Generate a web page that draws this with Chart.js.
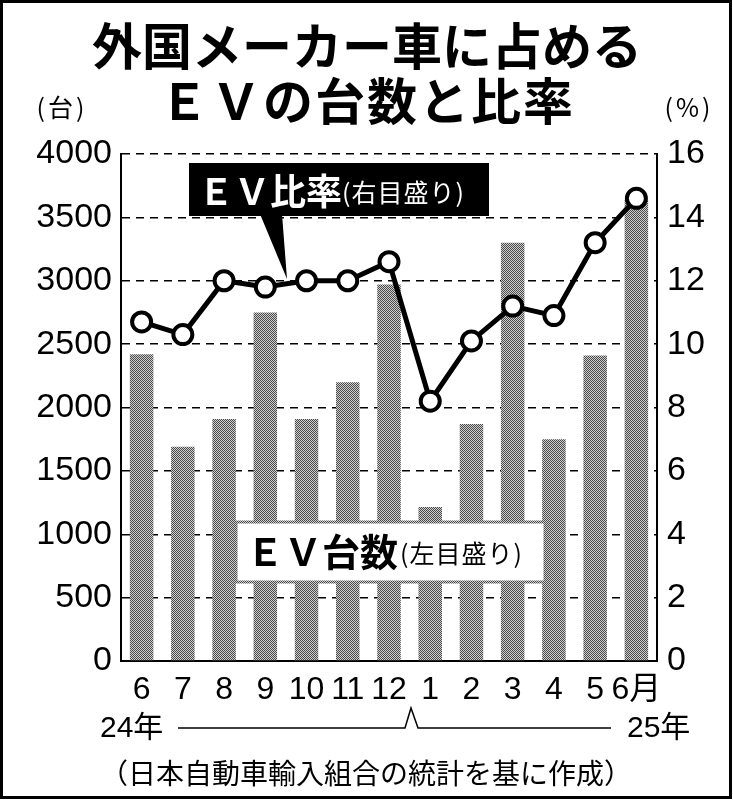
<!DOCTYPE html>
<html lang="ja">
<head>
    <meta charset="UTF-8">
    <title>外国メーカー車に占めるEVの台数と比率</title>
    <script src="https://cdn.jsdelivr.net/npm/chart.js"></script>
    <style>
        body { margin: 0; background: #fff; }
        #wrap { width: 733px; height: 800px; }
    </style>
</head>
<body>
<div id="wrap">
    <canvas id="evChart" width="733" height="800"></canvas>
</div>

<script>
// data
const months = ['6', '7', '8', '9', '10', '11', '12', '1', '2', '3', '4', '5', '6月'];
const evUnits = [2420, 1690, 1910, 2750, 1910, 2200, 2970, 1215, 1870, 3300, 1750, 2410, 3640];
const evRatio = [10.7, 10.3, 12.0, 11.8, 12.0, 12.0, 12.6, 8.2, 10.1, 11.2, 10.9, 13.2, 14.6];
const unitMax = 4000, unitStep = 500;
const ratioMax = 16, ratioStep = 2;

const JP = '"Noto Sans CJK JP", sans-serif';
const NUM = '"Liberation Sans", "Noto Sans CJK JP", sans-serif';

// halftone grey for the bars
function halftone(dark, light) {
    const c = document.createElement('canvas');
    c.width = 2; c.height = 2;
    const g = c.getContext('2d');
    g.fillStyle = light; g.fillRect(0, 0, 2, 2);
    g.fillStyle = dark; g.fillRect(0, 0, 1, 1); g.fillRect(1, 1, 1, 1);
    return g.createPattern(c, 'repeat');
}
const ctx = document.getElementById('evChart').getContext('2d');
const barFill = halftone('#4a4a4a', '#cfcfcf');

function text(c, str, x, y, font, color, align, spacing) {
    c.font = font;
    c.fillStyle = color;
    c.textAlign = align || 'left';
    c.textBaseline = 'middle';
    c.letterSpacing = spacing || '0px';
    c.fillText(str, x, y);
    c.letterSpacing = '0px';
}

const extras = {
    id: 'extras',
    afterDatasetsDraw(chart) {
        const c = chart.ctx;
        c.save();
        // EV比率 callout (black box)
        c.fillStyle = '#000';
        c.fillRect(189, 163, 300, 53);
        c.beginPath();
        c.moveTo(260, 214);
        c.lineTo(287, 279);
        c.lineTo(282, 214);
        c.closePath();
        c.fill();
        text(c, 'ＥＶ比率', 198, 191, 'bold 36px ' + JP, '#fff');
        text(c, '(右目盛り)', 342, 192, '25px ' + JP, '#fff', 'left', '1px');

        // EV台数 label (white box with dotted edge)
        c.fillStyle = '#fff';
        c.fillRect(236, 522, 309, 60);
        c.strokeStyle = barFill;
        c.lineWidth = 3;
        c.strokeRect(236, 522, 309, 60);
        text(c, 'ＥＶ台数', 246, 552, 'bold 38px ' + JP, '#000');
        text(c, '(左目盛り)', 400, 553, '25px ' + JP, '#000', 'left', '1px');
        c.restore();
    },
    afterDraw(chart) {
        const c = chart.ctx;
        c.save();
        text(c, '外国メーカー車に占める', 367, 46, 'bold 50px ' + JP, '#000', 'center');
        text(c, 'ＥＶの台数と比率', 367, 101, 'bold 50px ' + JP, '#000', 'center', '2px');
        text(c, '(台)', 62, 107, '25px ' + JP, '#000', 'center', '3px');
        text(c, '(%)', 689, 107, '25px ' + JP, '#000', 'center', '3px');

        // year bracket under the month labels
        text(c, '24年', 100, 729, '30px ' + NUM, '#000');
        text(c, '25年', 627, 729, '30px ' + NUM, '#000');
        c.strokeStyle = '#000';
        c.lineWidth = 1.5;
        c.beginPath();
        c.moveTo(178, 728);
        c.lineTo(405, 728);
        c.lineTo(411, 708);
        c.lineTo(418, 728);
        c.lineTo(611, 728);
        c.stroke();

        text(c, '（日本自動車輸入組合の統計を基に作成）', 100, 773, '28px ' + JP, '#000');

        // outer frame
        c.lineWidth = 3;
        c.strokeRect(1.5, 1.5, 729, 796);
        c.restore();
    }
};

new Chart(ctx, {
    type: 'bar',
    data: {
        labels: months,
        datasets: [{
            type: 'line',
            label: 'EV比率',
            data: evRatio,
            yAxisID: 'yRatio',
            borderColor: '#000',
            borderWidth: 5,
            pointRadius: 9.5,
            pointBackgroundColor: '#fff',
            pointBorderColor: '#000',
            pointBorderWidth: 4,
            tension: 0,
            order: 0
        }, {
            label: 'EV台数',
            data: evUnits,
            yAxisID: 'yUnits',
            backgroundColor: barFill,
            borderWidth: 0,
            barPercentage: 0.57,
            categoryPercentage: 1,
            order: 1
        }]
    },
    options: {
        responsive: false,
        animation: false,
        devicePixelRatio: 1,
        layout: { padding: { top: 154, left: 0, right: 0, bottom: 0 } },
        plugins: { legend: { display: false }, tooltip: { enabled: false } },
        scales: {
            x: {
                grid: { display: false, drawTicks: false },
                border: { color: '#000', width: 2 },
                ticks: { color: '#000', font: { family: NUM, size: 32 }, padding: 10, maxRotation: 0, autoSkip: false },
                afterFit: s => { s.height = 139; }
            },
            yUnits: {
                position: 'left',
                min: 0, max: unitMax,
                ticks: { stepSize: unitStep, color: '#000', font: { family: NUM, size: 34 }, padding: 9, callback: v => String(v) },
                grid: { color: '#000', lineWidth: 1.5, drawTicks: false },
                border: { color: '#000', width: 2, dash: [8, 6] },
                afterFit: s => { s.width = 121; }
            },
            yRatio: {
                position: 'right',
                min: 0, max: ratioMax,
                ticks: { stepSize: ratioStep, color: '#000', font: { family: NUM, size: 34 }, padding: 10, callback: v => String(v) },
                grid: { drawOnChartArea: false, drawTicks: false },
                border: { color: '#000', width: 2 },
                afterFit: s => { s.width = 76; }
            }
        }
    },
    plugins: [extras]
});
</script>
</body>
</html>
